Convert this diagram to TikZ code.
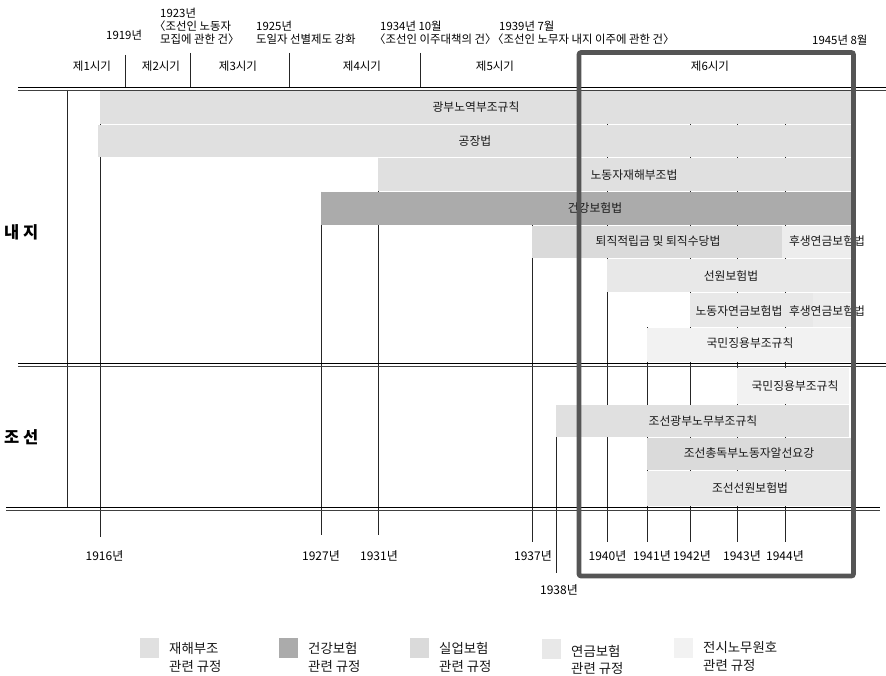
\documentclass[tikz,border=0pt]{standalone}
\usepackage{fontspec}
\setmainfont{Noto Sans CJK KR}
\definecolor{cA}{HTML}{E0E0E0}
\definecolor{cB}{HTML}{ABABAB}
\definecolor{cC}{HTML}{DADADA}
\definecolor{cD}{HTML}{E8E8E8}
\definecolor{cE}{HTML}{F2F2F2}
\definecolor{cF}{HTML}{EDEDED}
\definecolor{boxc}{HTML}{555555}
\tikzset{
  vline/.style={line width=0.8pt, black!85},
  hlineA/.style={line width=1.2pt, black},
  hlineB/.style={line width=0.8pt, black!75},
  barlbl/.style={font=\fontsize{11.8}{14}\selectfont, inner sep=0pt, text=black!90},
  toplbl/.style={font=\fontsize{11.4}{13}\selectfont, inner sep=0pt, anchor=west, text=black},
  perlbl/.style={font=\fontsize{11.5}{13}\selectfont, inner sep=0pt, text=black},
  yrlbl/.style={font=\fontsize{12}{13}\selectfont, inner sep=0pt, text=black},
  reglbl/.style={font=\fontsize{16.5}{18}\selectfont\bfseries, inner sep=0pt, anchor=west},
  leglbl/.style={font=\fontsize{13.4}{15}\selectfont, inner sep=0pt, anchor=west, text=black!90},
}
\begin{document}
\begin{tikzpicture}[x=1pt,y=-1pt]
\useasboundingbox (0,0) rectangle (886,676);
\fill[white] (0,0) rectangle (886,676);

% ---- top annotations
\node[toplbl] (t1919) at (106,35) {1919년};
\node[toplbl] (t1923a) at (160,13) {1923년};
\node[toplbl] (t1923b) at (154,26) {〈조선인 노동자};
\node[toplbl] (t1923c) at (160,39) {모집에 관한 건〉};
\node[toplbl] (t1925a) at (256,26) {1925년};
\node[toplbl] (t1925b) at (256,39) {도일자 선별제도 강화};
\node[toplbl] (t1934a) at (380,26) {1934년 10월};
\node[toplbl] (t1934b) at (374,39) {〈조선인 이주대책의 건〉};
\node[toplbl] (t1939a) at (499,26) {1939년 7월};
\node[toplbl] (t1939b) at (492,39) {〈조선인 노무자 내지 이주에 관한 건〉};
\node[toplbl] (t1945) at (812,40) {1945년 8월};

% ---- period separators and labels
\draw[vline] (125,55) -- (125,87);
\draw[vline] (190,53) -- (190,87);
\draw[vline] (289,53) -- (289,87);
\draw[vline] (420,53) -- (420,87);
\node[perlbl] (p1) at (92,66.5) {제1시기};
\node[perlbl] (p2) at (161,66.5) {제2시기};
\node[perlbl] (p3) at (238,66.5) {제3시기};
\node[perlbl] (p4) at (362,66.5) {제4시기};
\node[perlbl] (p5) at (495,66.5) {제5시기};
\node[perlbl] (p6) at (710,66.5) {제6시기};

% ---- vertical year lines
\draw[vline] (67,90) -- (67,508);
\draw[vline] (100,90) -- (100,537);
\draw[vline] (321,192) -- (321,535);
\draw[vline] (378,158) -- (378,535);
\draw[vline] (532,225) -- (532,542);
\draw[vline] (556,405) -- (556,573);
\draw[vline] (607,90) -- (607,542);
\draw[vline] (647,327) -- (647,542);
\draw[vline] (690,90) -- (690,542);
\draw[vline] (737,90) -- (737,542);
\draw[vline] (785,90) -- (785,542);

% ---- horizontal double lines
\draw[hlineA] (18,87.5) -- (886,87.5);
\draw[hlineB] (18,90.5) -- (886,90.5);
\draw[hlineA] (18,363.5) -- (886,363.5);
\draw[hlineB] (18,366.5) -- (886,366.5);
\draw[hlineA] (6,507.5) -- (880,507.5);
\draw[hlineB] (6,510.5) -- (880,510.5);

% ---- bars (내지)
\fill[cA] (100,91.2) rectangle (852,124);
\fill[cA] (98,125) rectangle (852,157.5);
\fill[cA] (378,158.5) rectangle (852,191.5);
\fill[cB] (321,192.5) rectangle (852,225);
\fill[cC] (532,226) rectangle (782,258);
\fill[cF] (782,226) rectangle (852,258);
\fill[cD] (607,259) rectangle (852,292.5);
\fill[cD] (690,293.5) rectangle (813,326.5);
\fill[cF] (813,293.5) rectangle (852,326.5);
\fill[cE] (647,327.5) rectangle (852,361.5);
% ---- bars (조선)
\fill[cE] (737,367.5) rectangle (849,404);
\fill[cA] (556,405) rectangle (849,436.5);
\fill[cC] (647,437.5) rectangle (852,469.5);
\fill[cD] (647,470.5) rectangle (852,505.5);

% ---- bar labels
\node[barlbl] (b1) at (476,107) {광부노역부조규칙};
\node[barlbl] (b2) at (475,141) {공장법};
\node[barlbl] (b3) at (634,175) {노동자재해부조법};
\node[barlbl] (b4) at (595,208.5) {건강보험법};
\node[barlbl] (b5) at (658,241.5) {퇴직적립금 및 퇴직수당법};
\node[barlbl] (b5b) at (827,241.5) {후생연금보험법};
\node[barlbl] (b6) at (731,276) {선원보험법};
\node[barlbl] (b7) at (739,311) {노동자연금보험법};
\node[barlbl] (b7b) at (827,311) {후생연금보험법};
\node[barlbl] (b8) at (750,343.5) {국민징용부조규칙};
\node[barlbl] (b9) at (795,386) {국민징용부조규칙};
\node[barlbl] (b10) at (703,421) {조선광부노무부조규칙};
\node[barlbl] (b11) at (749,453.5) {조선총독부노동자알선요강};
\node[barlbl] (b12) at (750,488) {조선선원보험법};

% ---- region labels
\node[reglbl] (r1) at (4,232) {내 지};
\node[reglbl] (r2) at (4,437) {조 선};

% ---- year labels
\node[yrlbl] (y1916) at (104.5,556) {1916년};
\node[yrlbl] (y1927) at (321,556) {1927년};
\node[yrlbl] (y1931) at (379,556) {1931년};
\node[yrlbl] (y1937) at (533,556) {1937년};
\node[yrlbl] (y1938) at (559,590) {1938년};
\node[yrlbl] (y1940) at (607.5,556) {1940년};
\node[yrlbl] (y1941) at (652,556) {1941년};
\node[yrlbl] (y1942) at (692,556) {1942년};
\node[yrlbl] (y1943) at (742,556) {1943년};
\node[yrlbl] (y1944) at (785,556) {1944년};

% ---- 제6시기 box
\draw[line width=4.6pt, boxc, rounded corners=2pt] (579,52.5) rectangle (853.5,576);

% ---- legend
\fill[cA] (140,638) rectangle (159,658);
\fill[cB] (279,638) rectangle (298,658);
\fill[cC] (410,638) rectangle (429,658);
\fill[cD] (542,639) rectangle (561,659);
\fill[cE] (674,638) rectangle (693,658);
\node[leglbl] (l1a) at (169,648) {재해부조};
\node[leglbl] (l1b) at (169,666) {관련 규정};
\node[leglbl] (l2a) at (308,648) {건강보험};
\node[leglbl] (l2b) at (308,666) {관련 규정};
\node[leglbl] (l3a) at (439,648) {실업보험};
\node[leglbl] (l3b) at (439,666) {관련 규정};
\node[leglbl] (l4a) at (571,651) {연금보험};
\node[leglbl] (l4b) at (571,668) {관련 규정};
\node[leglbl] (l5a) at (703,647) {전시노무원호};
\node[leglbl] (l5b) at (703,665) {관련 규정};
\end{tikzpicture}
\end{document}
